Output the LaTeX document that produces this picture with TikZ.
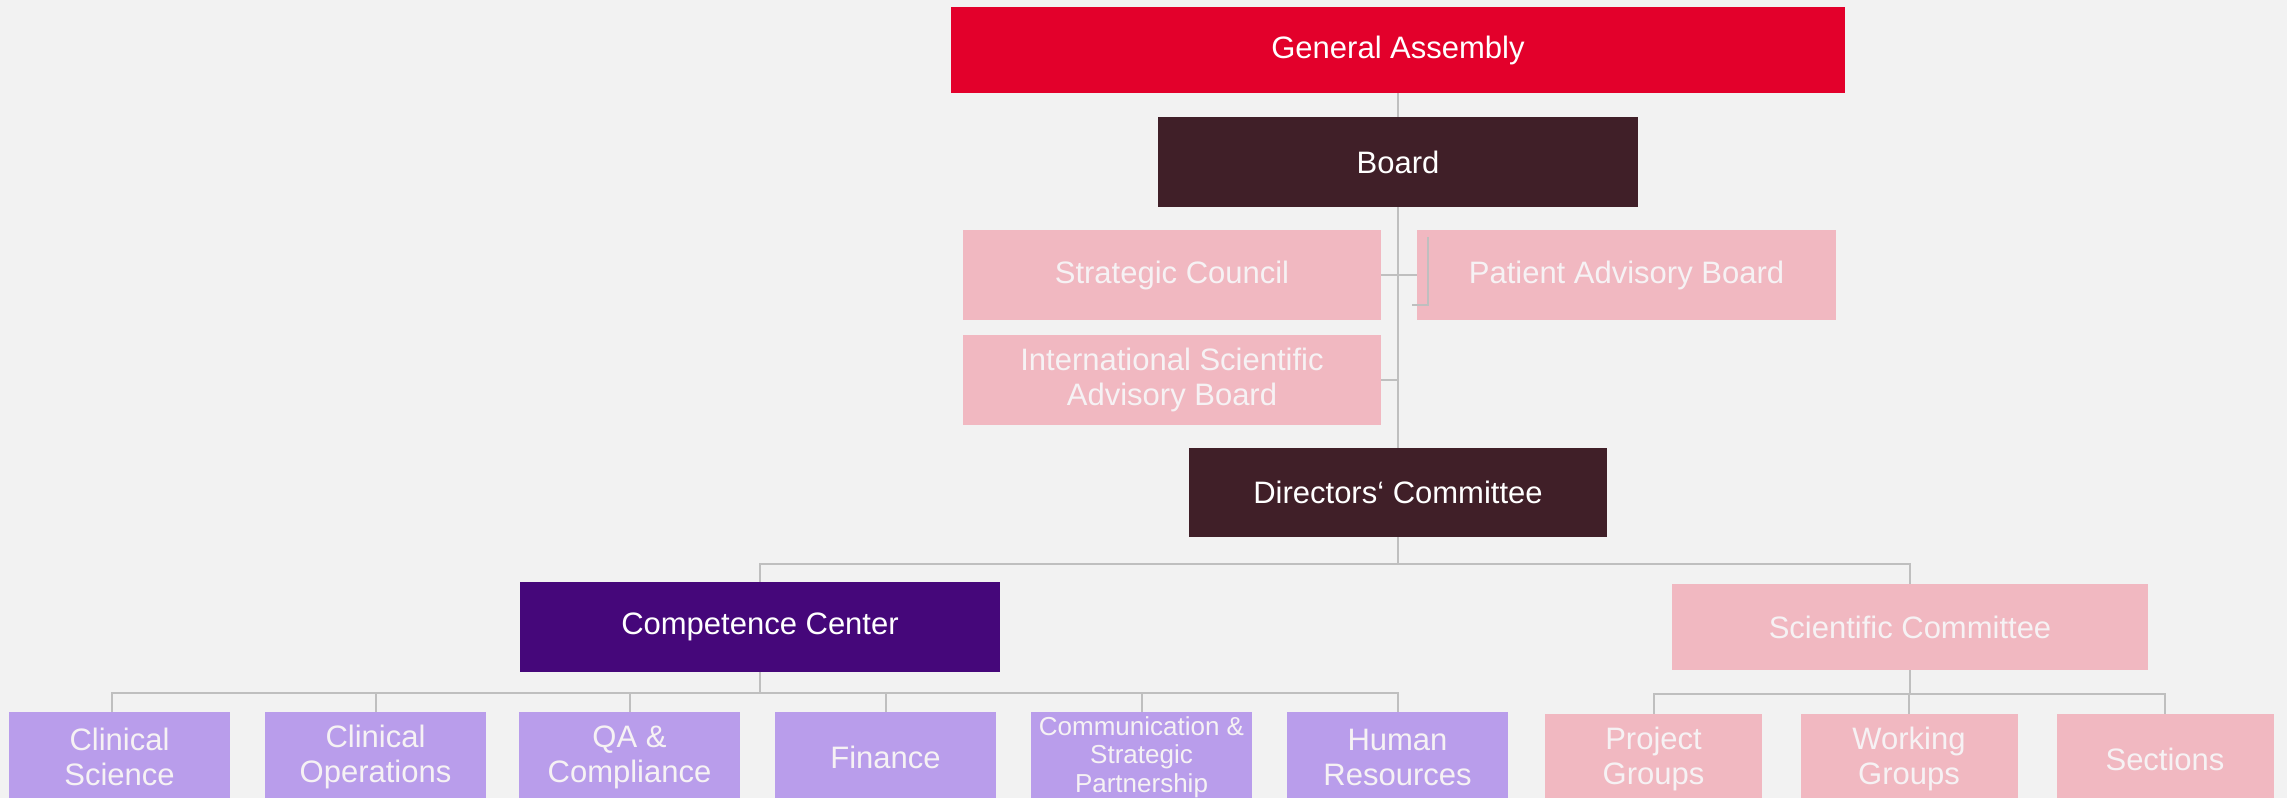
\documentclass[tikz,border=0pt]{standalone}
\usepackage{fontspec}
\setmainfont{Liberation Sans}
\definecolor{bg}{RGB}{242,242,242}
\definecolor{gared}{RGB}{227,0,43}
\definecolor{boardc}{RGB}{64,31,40}
\definecolor{pinkc}{RGB}{241,184,193}
\definecolor{ccpurple}{RGB}{69,7,122}
\definecolor{lavender}{RGB}{185,157,235}
\definecolor{linec}{RGB}{191,191,191}
\definecolor{lighttext}{RGB}{246,242,244}
\begin{document}
\begin{tikzpicture}[x=1pt,y=-1pt,
  box/.style={rectangle, inner sep=0pt, align=center, text=white, font={\fontsize{31}{35}\selectfont}},
  bigbox/.style={box, minimum width=418pt, minimum height=90pt},
  pinkbox/.style={box, fill=pinkc, text=lighttext},
  lavbox/.style={box, fill=lavender, text=lighttext, minimum width=221pt, minimum height=90pt},
  subpink/.style={pinkbox, minimum width=217pt, minimum height=90pt},
  conn/.style={draw=linec, line width=2pt}]
\fill[bg] (0,0) rectangle (2287,798);
\useasboundingbox (0,0) rectangle (2287,798);
\clip (0,0) rectangle (2287,798);

% top levels
\node[box, fill=gared, minimum width=894pt, minimum height=86pt] (ga) at (1398,50) {General Assembly};
\node[box, fill=boardc, minimum width=480pt, minimum height=90pt] (board) at (1398,162) {Board};
\node[bigbox, pinkbox] (sc) at (1172,275) {Strategic Council};
\node[bigbox, pinkbox, minimum width=419pt] (pab) at (1626.5,275) {Patient Advisory Board};
\node[bigbox, pinkbox] (isab) at (1172,380) {International Scientific\\Advisory Board};
\node[box, fill=boardc, minimum width=418pt, minimum height=89pt] (dc) at (1398,492.5) {Directors‘ Committee};

% second level
\node[box, fill=ccpurple, minimum width=480pt, minimum height=90pt] (cc) at (760,627) {Competence Center};
\node[pinkbox, minimum width=476pt, minimum height=86pt] (scic) at (1910,627) {Scientific Committee};

% competence center children
\node[lavbox] (cs) at (119.5,757) {Clinical\\Science};
\node[lavbox] (co) at (375.5,757) {Clinical\\Operations};
\node[lavbox] (qa) at (629.5,757) {QA \&\\Compliance};
\node[lavbox] (fin) at (885.5,757) {Finance};
\node[lavbox, font={\fontsize{26}{28.5}\selectfont}] (comm) at (1141.5,757) {Communication \&\\Strategic\\Partnership};
\node[lavbox] (hr) at (1397.5,757) {Human\\Resources};

% scientific committee children
\node[subpink] (pg) at (1653.5,759) {Project\\Groups};
\node[subpink] (wg) at (1909,759) {Working\\Groups};
\node[subpink] (sec) at (2165,759) {Sections};

% connectors
\draw[conn] (ga) -- (board);
\draw[conn] (board) -- (dc);
\draw[conn] (sc.east) -- (pab.west);
\draw[conn] ([shift={(11,7)}]pab.north west) -- ([shift={(11,75)}]pab.north west) -- ([shift={(-5,75)}]pab.north west);
\draw[conn] (isab.east) -- (isab.east -| dc.north);

\coordinate (dcj) at ([yshift=-27pt]dc.south);
\draw[conn] (dc.south) -- (dcj);
\draw[conn] (dcj) -| (cc.north);
\draw[conn] (dcj) -| (scic.north);

\coordinate (ccj) at ([yshift=-21pt]cc.south);
\draw[conn] (cc.south) -- (ccj);
\draw[conn] (ccj) -| ([xshift=-7.5pt]cs.north);
\draw[conn] (ccj) -| (co.north);
\draw[conn] (ccj) -| (qa.north);
\draw[conn] (ccj) -| (fin.north);
\draw[conn] (ccj) -| (comm.north);
\draw[conn] (ccj) -| (hr.north);

\coordinate (scj) at ([yshift=-24pt]scic.south);
\draw[conn] (scic.south) -- (scj);
\draw[conn] (scj) -| (pg.north);
\draw[conn] (scj) -| (wg.north);
\draw[conn] (scj) -| (sec.north);
\end{tikzpicture}
\end{document}
